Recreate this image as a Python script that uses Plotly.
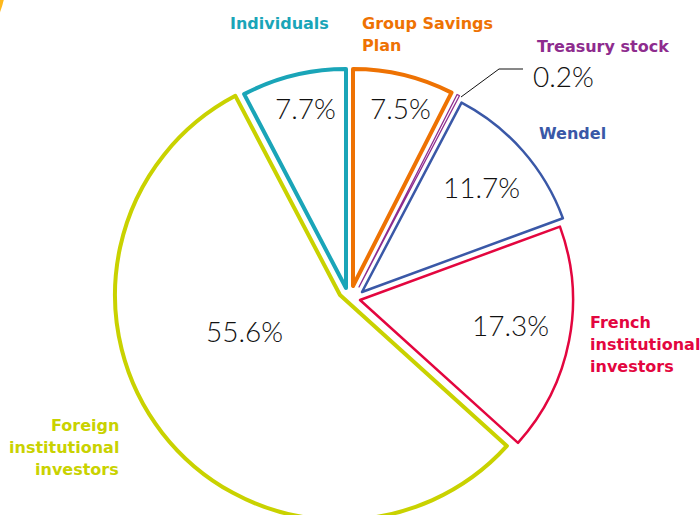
import plotly.graph_objects as go

# Shareholding structure, clockwise from 12 o'clock
labels = ["Group Savings Plan", "Treasury stock", "Wendel",
          "French institutional investors", "Foreign institutional investors",
          "Individuals"]
values = [7.5, 0.2, 11.7, 17.3, 55.6, 7.7]
pct_text = ["7.5%", "0.2%", "11.7%", "17.3%", "55.6%", "7.7%"]

colors = {
    "Group Savings Plan": "#EE7203",
    "Treasury stock": "#8E2C8E",
    "Wendel": "#3A58A7",
    "French institutional investors": "#E3063F",
    "Foreign institutional investors": "#C9D200",
    "Individuals": "#1AA5B8",
}
widths = {
    "Group Savings Plan": 4,
    "Treasury stock": 1.3,
    "Wendel": 2.5,
    "French institutional investors": 2.5,
    "Foreign institutional investors": 4,
    "Individuals": 4,
}
# exploded layout: apex position (px from top-left) and radius of each wedge
wedge_geom = {
    "Group Savings Plan": (353, 286, 217),
    "Treasury stock": (359, 287, 216),
    "Wendel": (362, 292, 214),
    "French institutional investors": (360, 300, 213),
    "Foreign institutional investors": (340, 295, 225),
    "Individuals": (346, 288, 219),
}

W, H = 700, 530
CLEAR = "rgba(0,0,0,0)"


def px(x, y):
    """Pixel position (from top-left) -> paper coordinates."""
    return x / W, 1 - y / H


def box(cx, cy, half):
    """Square pie domain centred on a pixel position."""
    return dict(x=[(cx - half) / W, (cx + half) / W],
                y=[1 - (cy + half) / H, 1 - (cy - half) / H])


fig = go.Figure()
# one trace per wedge so every slice keeps its own offset
for lab in labels:
    cx, cy, r = wedge_geom[lab]
    fig.add_trace(go.Pie(
        labels=labels, values=values, sort=False, direction="clockwise",
        rotation=0, textinfo="none", hoverinfo="skip", showlegend=False,
        marker=dict(colors=["white" if l == lab else CLEAR for l in labels],
                    line=dict(color=[colors[l] for l in labels],
                              width=[widths[l] if l == lab else 0 for l in labels])),
        domain=box(cx, cy, r),
    ))

pct_font = dict(family="Lato", size=28, color="#111111", weight=300)
pct_pos = {
    "Individuals": (305, 108),
    "Group Savings Plan": (400, 108),
    "Wendel": (481, 187),
    "French institutional investors": (510, 325),
    "Foreign institutional investors": (245, 331),
}
annotations = []
for lab, txt in zip(labels, pct_text):
    if lab in pct_pos:
        x, y = px(*pct_pos[lab])
        annotations.append(dict(x=x, y=y, text=txt, showarrow=False,
                                xanchor="center", yanchor="middle", font=pct_font))

# Treasury stock value sits outside with a leader line
x, y = px(531, 76)
annotations.append(dict(x=x, y=y, text=pct_text[1], showarrow=False,
                        xanchor="left", yanchor="middle", font=pct_font))

cat_font = dict(family="DejaVu Sans", size=16, weight=700)
LINE_STEP = 22
cat_labels = [
    (["Individuals"], (228, 24), "left", "Individuals"),
    (["Group Savings", "Plan"], (360, 24), "left", "Group Savings Plan"),
    (["Treasury stock"], (535, 47), "left", "Treasury stock"),
    (["Wendel"], (537, 133), "left", "Wendel"),
    (["French", "institutional", "investors"], (588, 322), "left",
     "French institutional investors"),
    (["Foreign", "institutional", "investors"], (121, 425), "right",
     "Foreign institutional investors"),
]
for lines, (cx, cy), xa, key in cat_labels:
    for i, line in enumerate(lines):
        x, y = px(cx, cy + i * LINE_STEP)
        annotations.append(dict(x=x, y=y, text=line, showarrow=False, xanchor=xa,
                                yanchor="middle",
                                font=dict(cat_font, color=colors[key])))

# leader line for the treasury stock slice
p0, p1, p2 = px(461, 97), px(499, 69), px(523, 69)
shapes = [
    dict(type="path", xref="paper", yref="paper",
         path=f"M {p0[0]} {p0[1]} L {p1[0]} {p1[1]} L {p2[0]} {p2[1]}",
         line=dict(color="#111111", width=1)),
]
# decorative disc in the top-left corner
c0, c1 = px(-174, 70), px(6, -110)
shapes.append(dict(type="circle", xref="paper", yref="paper",
                   x0=c0[0], y0=c0[1], x1=c1[0], y1=c1[1],
                   fillcolor="#FFB81C", line=dict(width=0)))

fig.update_layout(
    width=W, height=H,
    margin=dict(l=0, r=0, t=0, b=0),
    paper_bgcolor="white",
    plot_bgcolor="white",
    annotations=annotations,
    shapes=shapes,
)

fig.write_html("out.html")
